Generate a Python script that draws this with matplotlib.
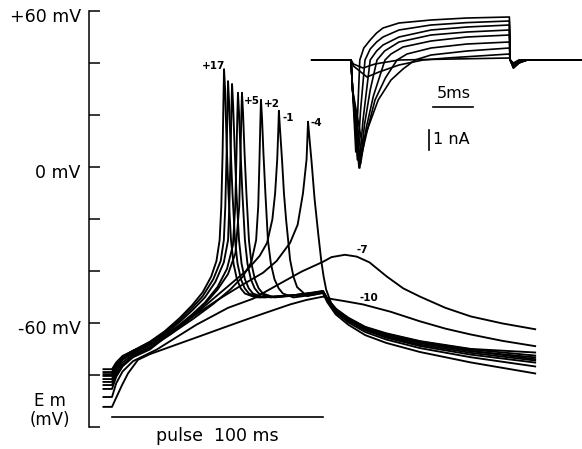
import matplotlib
matplotlib.use("Agg")
import matplotlib.pyplot as plt

# ---------------- main current-clamp traces (time in ms, Em in mV) ----------------
trace_labels = ['+17', '+14', '+11', '+8', '+5', '+2', '-1', '-4', '-7', '-10']

t_p17 = [-4.5, 0, 2, 5, 10, 18, 25, 32, 38, 43, 47, 49.5, 51, 51.8, 52.4, 52.8, 53.1,
         53.6, 54.3, 55.2, 56.4, 57.6, 59.2, 61, 63, 68, 80, 95, 100,
         102, 106, 112, 120, 130, 146, 170, 201]
v_p17 = [-79.5, -79.5, -76, -73, -70.5, -67, -63, -58, -53, -48, -42, -36, -28, -15, 5, 25, 37.8,
         30, 10, -10, -28, -37, -43, -46.5, -48.5, -50, -49.5, -48.5, -47.8,
         -50.5, -54.5, -58, -61.5, -64, -67, -70, -72.4]

t_p14 = [-4.5, 0, 2, 5, 10, 18, 25, 32, 38, 43, 48, 51.5, 53, 53.7, 54.3, 54.7, 55.0,
         55.5, 56.2, 57.1, 58.3, 59.5, 61.1, 62.9, 64.9, 70, 82, 95, 100,
         102, 106, 112, 120, 130, 146, 170, 201]
v_p14 = [-78.7, -78.7, -75.5, -72.8, -70.5, -67.3, -63.5, -58.8, -54, -49.5, -43, -36, -28, -15, 5, 22, 33.2,
         25, 8, -10, -28, -37, -43, -46.5, -48.5, -50, -49.5, -48.3, -47.6,
         -50.3, -54.3, -57.8, -61.3, -63.8, -66.8, -69.8, -71.2]

t_p11 = [-4.5, 0, 2, 5, 10, 18, 25, 32, 38, 44, 49, 53, 55, 55.6, 56.2, 56.6, 56.9,
         57.4, 58.1, 59, 60.2, 61.4, 63, 64.8, 66.8, 72, 85, 100,
         102, 106, 112, 120, 130, 146, 170, 201]
v_p11 = [-80.2, -80.2, -76.5, -73.5, -71, -67.8, -64, -59.5, -55, -50, -44, -36.5, -28, -15, 5, 22, 32.1,
         24, 8, -10, -28, -37, -43, -46.5, -48.5, -50, -49.3, -47.8,
         -50.6, -54.8, -58.4, -62, -64.6, -67.6, -70.7, -73.1]

t_p8 = [-4.5, 0, 2, 5, 10, 18, 25, 32, 38, 44, 50, 54.5, 57.3, 58.4, 59, 59.4, 59.7,
        60.2, 60.9, 61.8, 63, 64.2, 65.8, 67.6, 69.6, 75, 88, 100,
        102, 106, 112, 120, 130, 146, 170, 201]
v_p8 = [-77.6, -77.6, -75, -72.5, -70.5, -68, -64.5, -60.5, -56.5, -52, -46, -39, -30, -15, 5, 20, 28.7,
        21, 6, -10, -28, -37, -43, -46.5, -48.5, -50, -49, -47.5,
        -50.5, -54.8, -58.5, -62.2, -65, -68.2, -71.3, -74.3]

t_p5 = [-4.5, 0, 2, 5, 10, 18, 25, 32, 38, 44, 50, 55, 58.5, 60.3, 60.9, 61.3, 61.6,
        62.1, 62.8, 63.7, 64.9, 66.1, 67.7, 69.5, 71.5, 77, 90, 100,
        102, 106, 112, 120, 130, 146, 170, 201]
v_p5 = [-81.4, -81.4, -77.5, -74, -71.5, -68.3, -65, -61, -57, -52.5, -47, -41, -33, -15, 5, 20, 28.7,
        21, 6, -10, -28, -37, -43, -46.5, -48.5, -50, -49, -47.7,
        -50.8, -55.2, -59, -62.6, -65.5, -68.7, -72, -75.1]

t_p2 = [-4.5, 0, 2, 5, 10, 18, 28, 38, 48, 56, 62, 66, 68.3, 69.3, 69.9, 70.3, 70.6,
        71.1, 71.8, 72.7, 73.9, 75.3, 77, 79, 81, 86, 95, 100,
        102, 106, 112, 120, 130, 146, 170, 201]
v_p2 = [-82.5, -82.5, -78.5, -75, -72, -69, -64, -58.5, -52.5, -47, -42, -36.5, -28, -15, 3, 17, 26,
        19, 5, -10, -28, -37, -43, -46.5, -48.5, -50, -49, -48.2,
        -51.3, -55.8, -59.6, -63.3, -66.2, -69.5, -73, -76.6]

t_m1 = [-4.5, 0, 2, 5, 10, 18, 28, 38, 48, 56, 64, 70, 73.5, 76, 77.3, 78.3, 78.8, 79.1,
        79.6, 80.6, 81.5, 82.5, 84.4, 86, 87.7, 92.4, 100,
        102, 106, 112, 120, 130, 146, 170, 201]
v_m1 = [-83.7, -83.7, -79.5, -76, -72.5, -69.5, -64, -57.5, -50.5, -45, -39.5, -34, -29, -20, -10, 3, 14, 21.8,
        15, 2.7, -10, -20, -35.5, -42, -46, -49.5, -48.3,
        -51.8, -56.5, -60.5, -64.5, -67.5, -71, -75, -79.3]

t_m4 = [-4.5, 0, 2, 5, 10, 18, 28, 38.4, 50, 60, 71.6, 78, 84.4, 88, 90.5, 92.2, 92.6, 92.9,
        93.5, 94.6, 96, 97.8, 99.2, 100.3, 101.5,
        104, 108, 114, 122, 130, 146, 170, 201]
v_m4 = [-85.2, -85.2, -80.5, -76.5, -73, -70, -63.5, -57.3, -51, -46, -40.5, -36, -29, -22, -10, 3, 11, 17.6,
        12, 2, -12, -26, -36, -42, -47,
        -52.5, -56, -59.2, -62.3, -64.5, -67.5, -70.5, -73.8]

t_m7 = [-4.5, 0, 2, 5, 10, 21.3, 40, 55, 66.8, 80, 90, 100, 104, 110.4, 116, 122, 130.3, 138, 146, 158, 170, 185, 201]
v_m7 = [-88.3, -88.3, -83, -78.5, -74.5, -70, -60.5, -54, -50.5, -44.5, -40, -36.3, -34.5, -33.6, -34.3, -36.5, -42, -46.5,
        -49.7, -54, -57.3, -60, -62.3]

t_m10 = [-4.5, 0, 1.4, 4.7, 7.6, 12.3, 18, 30, 41.7, 55, 65.4, 75, 84.4, 92, 100, 104, 110, 119, 132, 146, 158, 169.7, 185, 201]
v_m10 = [-92.1, -92.1, -89.6, -83.8, -79.2, -74, -71.8, -68.3, -64.9, -61, -58, -55.3, -52.7, -51, -49.7, -50.6, -51.4, -52.7,
         -55.5, -59.2, -62, -64.2, -66.7, -68.8]

main_t = [t_p17, t_p14, t_p11, t_p8, t_p5, t_p2, t_m1, t_m4, t_m7, t_m10]
main_v = [v_p17, v_p14, v_p11, v_p8, v_p5, v_p2, v_m1, v_m4, v_m7, v_m10]

# trace annotations: label, time (ms), Em (mV)
note_text = ['+17', '+5', '+2', '-1', '-4', '-7', '-10']
note_t = [47.9, 66.4, 75.8, 83.4, 96.7, 118.5, 121.8]
note_v = [39.0, 25.6, 24.5, 19.1, 17.2, -31.7, -50.4]

# voltage axis
em_ticks = [-100, -80, -60, -40, -20, 0, 20, 40, 60]
em_tick_labels = {60: '+60 mV', 0: '0 mV', -60: '-60 mV'}
pulse_start, pulse_end = 0, 100

# ---------------- inset: voltage-clamp currents (time in ms, current in nA) ----------------
it1 = [-4.9, 0, 0.2, 0.6, 0.85, 1.1, 1.6, 2.4, 3.2, 4, 6, 10, 14.5, 19.8, 19.9, 20.3, 21, 22, 28.8]
ic1 = [0, 0, -1.5, -4.6, -2.5, 0, 0.6, 1.0, 1.35, 1.6, 1.85, 2.0, 2.1, 2.15, 0, -0.4, -0.15, 0, 0]
it2 = [-4.9, 0, 0.2, 0.8, 1.2, 1.75, 2.4, 3.2, 4, 6, 10, 14.5, 19.8, 19.9, 20.3, 21, 22, 28.8]
ic2 = [0, 0, -1.5, -5.0, -2.5, 0, 0.55, 0.9, 1.15, 1.5, 1.75, 1.87, 1.95, 0, -0.4, -0.15, 0, 0]
it3 = [-4.9, 0, 0.2, 1.0, 1.5, 2.4, 3.2, 4, 6, 10, 14.5, 19.8, 19.9, 20.3, 21, 22, 28.8]
ic3 = [0, 0, -1.5, -5.4, -3, 0, 0.45, 0.75, 1.15, 1.5, 1.65, 1.75, 0, -0.35, -0.12, 0, 0]
it4 = [-4.9, 0, 0.2, 1.1, 1.7, 2.4, 3.25, 4.2, 6, 10, 14.5, 19.8, 19.9, 20.3, 21, 22, 28.8]
ic4 = [0, 0, -1.5, -5.4, -3.2, -1.5, 0, 0.45, 0.9, 1.25, 1.4, 1.5, 0, -0.35, -0.12, 0, 0]
it5 = [-4.9, 0, 0.2, 1.2, 1.9, 2.8, 4.25, 5, 6.5, 10, 14.5, 19.8, 19.9, 20.3, 21, 22, 28.8]
ic5 = [0, 0, -1.5, -5.2, -3.4, -1.8, 0, 0.3, 0.65, 0.95, 1.15, 1.25, 0, -0.3, -0.1, 0, 0]
it6 = [-4.9, 0, 0.2, 1.3, 2.1, 3, 4.3, 5.75, 7, 10, 14.5, 19.8, 19.9, 20.3, 21, 22, 28.8]
ic6 = [0, 0, -1.5, -4.8, -3.4, -2, -0.9, 0, 0.3, 0.6, 0.8, 0.9, 0, -0.3, -0.1, 0, 0]
it7 = [-4.9, 0, 0.2, 1.4, 2.3, 3.4, 5, 6.5, 8, 10, 14.5, 19.8, 19.9, 20.3, 21, 22, 28.8]
ic7 = [0, 0, -1.5, -4.2, -3.2, -2, -1, -0.45, 0, 0.25, 0.45, 0.6, 0, -0.25, -0.1, 0, 0]
it8 = [-4.9, 0, 0.3, 2, 3.5, 6, 9, 12, 19.8, 19.9, 20.3, 21, 28.8]
ic8 = [0, 0, -0.3, -0.85, -0.6, -0.25, 0, 0.1, 0.3, 0, -0.2, 0, 0]
it9 = [-4.9, 0, 0.3, 1.5, 3, 6, 19.8, 19.9, 20.3, 21, 28.8]
ic9 = [0, 0, -0.2, -0.4, -0.2, 0, 0.1, 0, -0.15, 0, 0]

inset_t = [it1, it2, it3, it4, it5, it6, it7, it8, it9]
inset_i = [ic1, ic2, ic3, ic4, ic5, ic6, ic7, ic8, ic9]

time_bar_ms = 5
current_bar_na = 1

# ---------------- drawing ----------------
plt.rcParams['font.family'] = ['DejaVu Sans']
fig = plt.figure(figsize=(5.82, 4.49), dpi=100)
fig.patch.set_facecolor('white')

ax = fig.add_axes([0, 0, 1, 1])
ax.set_xlim(-53.08, 222.75)
ax.set_ylim(-108.3, 64.4)
ax.patch.set_visible(False)
for s in ['top', 'right', 'bottom']:
    ax.spines[s].set_visible(False)
ax.spines['left'].set_position(('data', -10.9))
ax.spines['left'].set_bounds(-100, 60)
ax.spines['left'].set_linewidth(1.1)
ax.set_yticks(em_ticks)
ax.set_yticklabels([''] * len(em_ticks))
ax.tick_params(axis='y', direction='in', length=8, width=1.1, color='black')
ax.set_xticks([])

for val, lab in em_tick_labels.items():
    ax.text(-14.8, val - 2.3, lab, ha='right', va='center', fontsize=12.5)
ax.text(-29.4, -89.8, 'E m', ha='center', va='center', fontsize=12)
ax.text(-29.4, -97.3, '(mV)', ha='center', va='center', fontsize=12)

for tt, vv in zip(main_t, main_v):
    ax.plot(tt, vv, color='black', lw=1.35, solid_joinstyle='round', solid_capstyle='butt')

for txt, tt, vv in zip(note_text, note_t, note_v):
    ax.text(tt, vv, txt, ha='center', va='center', fontsize=7.5, fontweight='bold')

ax.plot([pulse_start, pulse_end], [-95.8, -95.8], color='black', lw=1.2)
ax.text((pulse_start + pulse_end) / 2, -103.3, 'pulse  100 ms', ha='center', va='center', fontsize=12.5)

# inset
ax2 = fig.add_axes([300 / 582, 1 - 180 / 449, 282 / 582, 180 / 449])
ax2.set_xlim(-6.375, 28.875)
ax2.set_ylim(-6.0, 3.0)
ax2.axis('off')
ax2.patch.set_visible(False)
for tt, ii in zip(inset_t, inset_i):
    ax2.plot(tt, ii, color='black', lw=1.2, solid_joinstyle='round')

ax2.plot([10.3, 10.3 + time_bar_ms], [-2.35, -2.35], color='black', lw=1.2)
ax2.text(12.8, -1.65, '5ms', ha='center', va='center', fontsize=11.5)
ax2.plot([9.75, 9.75], [-3.5, -3.5 - current_bar_na], color='black', lw=1.2)
ax2.text(10.3, -4.0, '1 nA', ha='left', va='center', fontsize=11.5)

fig.savefig('out.png', dpi=100, facecolor='white')
